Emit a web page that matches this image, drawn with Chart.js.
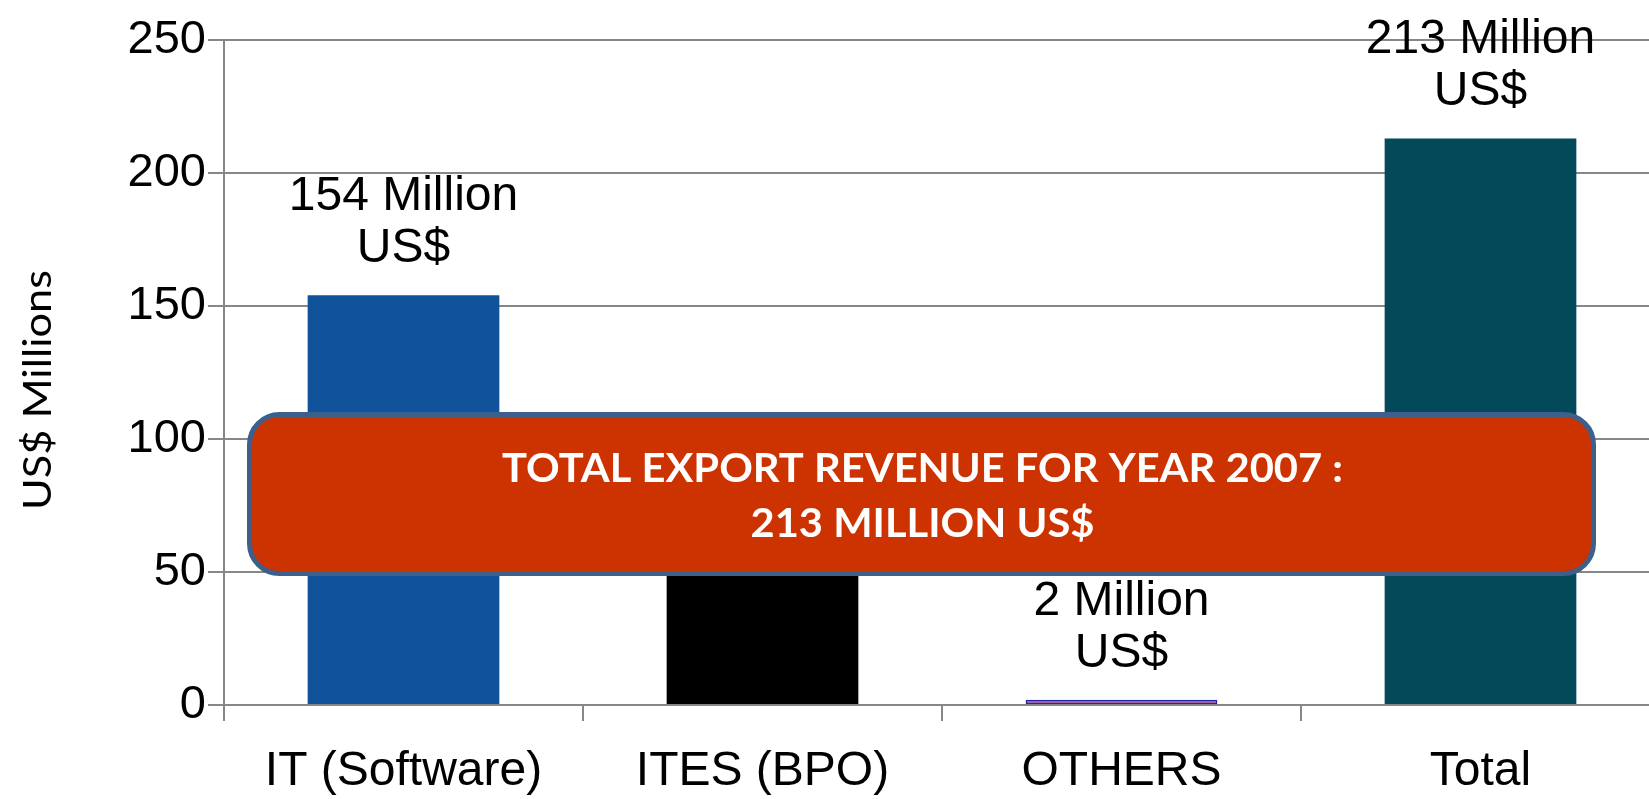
<!DOCTYPE html>
<html>
<head>
<meta charset="utf-8">
<script src="https://cdn.jsdelivr.net/npm/chart.js@4"></script>
<style>
  html, body { margin: 0; padding: 0; overflow: hidden; background: #fff; }
  #grafico { display: block; }
</style>
</head>
<body>
<canvas id="grafico" width="1700" height="799"></canvas>
<script>
const categorias = ["IT (Software)", "ITES (BPO)", "OTHERS", "Total"];
const valores = [154, 57, 2, 213];
const coloresBarras = ["#10539a", "#000000", "#a8307e", "#034959"];
const bordesBarras = ["#10539a", "#000000", "#2424a8", "#034959"];
const ticksY = [0, 50, 100, 150, 200, 250];
const tituloY = "US$ Millions";
const textoRecuadro = ["TOTAL EXPORT REVENUE FOR YEAR 2007 :", "213 MILLION US$"];

const fuente = '"Liberation Sans", Arial, sans-serif';
const gris = "#878787";

// texto escalado a un ancho dado (el original viene de PowerPoint)
function textoAjustado(ctx, texto, x, y, ancho) {
  const w = ctx.measureText(texto).width;
  ctx.save();
  ctx.translate(x, y);
  ctx.scale(ancho / w, 1);
  ctx.fillText(texto, 0, 0);
  ctx.restore();
}

const etiquetasPlugin = {
  id: "etiquetas",
  afterDatasetsDraw(chart) {
    const ctx = chart.ctx;
    const meta = chart.getDatasetMeta(0);
    ctx.save();
    ctx.font = `48px ${fuente}`;
    ctx.fillStyle = "#000";
    ctx.textAlign = "center";
    ctx.textBaseline = "alphabetic";
    meta.data.forEach((barra, i) => {
      ctx.fillText(`${valores[i]} Million`, barra.x, barra.y - 33 - 52);
      ctx.fillText("US$", barra.x, barra.y - 33);
    });
    ctx.restore();
  }
};

const recuadroPlugin = {
  id: "recuadro",
  afterDraw(chart) {
    const ctx = chart.ctx;
    const area = chart.chartArea;
    const y = chart.scales.y;
    const x0 = area.left + 25.5;
    const x1 = area.left + 1369.5;
    const y0 = y.getPixelForValue(109.2);
    const y1 = y.getPixelForValue(49.4);
    ctx.save();
    ctx.beginPath();
    ctx.roundRect(x0, y0, x1 - x0, y1 - y0, 30);
    ctx.fillStyle = "#cc3300";
    ctx.fill();
    ctx.lineWidth = 5;
    ctx.strokeStyle = "#3c5f8c";
    ctx.stroke();

    ctx.fillStyle = "#fff";
    ctx.font = 'bold 40px Lato, "Open Sans", sans-serif';
    ctx.textAlign = "center";
    ctx.textBaseline = "alphabetic";
    const cx = (x0 + x1) / 2 + 1;
    textoAjustado(ctx, textoRecuadro[0], cx, 482, 841);
    textoAjustado(ctx, textoRecuadro[1], cx, 537, 344);

    // titulo eje Y
    ctx.fillStyle = "#000";
    ctx.font = '39px Lato, "Open Sans", sans-serif';
    ctx.translate(51, 390);
    ctx.rotate(-Math.PI / 2);
    textoAjustado(ctx, tituloY, 0, 0, 240);
    ctx.restore();
  }
};

new Chart(document.getElementById("grafico"), {
  type: "bar",
  data: {
    labels: categorias,
    datasets: [
      {
        data: valores,
        backgroundColor: coloresBarras,
        borderColor: bordesBarras,
        borderWidth: [0, 0, 1.5, 0],
        borderSkipped: false,
        barPercentage: 0.534,
        categoryPercentage: 1
      }
    ]
  },
  options: {
    responsive: false,
    animation: false,
    devicePixelRatio: 1,
    layout: { padding: { left: 0, right: 40, top: 40, bottom: 0 } },
    plugins: {
      legend: { display: false },
      tooltip: { enabled: false }
    },
    scales: {
      x: {
        grid: { offset: true, drawOnChartArea: false, color: gris, lineWidth: 2, tickLength: 16 },
        border: { color: gris, width: 2 },
        ticks: { color: "#000", font: { size: 48, family: fuente }, padding: 22, maxRotation: 0, autoSkip: false },
        afterFit: (s) => { s.height = 94; }
      },
      y: {
        min: 0,
        max: 250,
        afterBuildTicks: (s) => { s.ticks = ticksY.map((v) => ({ value: v })); },
        grid: { color: gris, lineWidth: 2, tickLength: 16 },
        border: { color: gris, width: 2 },
        ticks: { color: "#000", font: { size: 47, family: fuente }, padding: 2 },
        afterFit: (s) => { s.width = 224; }
      }
    }
  },
  plugins: [etiquetasPlugin, recuadroPlugin]
});
</script>
</body>
</html>
